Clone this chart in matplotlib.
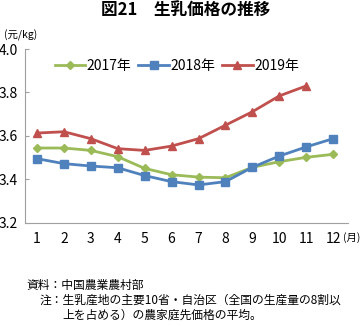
import matplotlib
matplotlib.use("Agg")
import matplotlib.pyplot as plt

plt.rcParams['font.family'] = ['Noto Sans CJK JP', 'DejaVu Sans']

months = list(range(1, 13))
month_labels = [str(m) for m in months]
y2017 = [3.544, 3.544, 3.533, 3.504, 3.450, 3.421, 3.410, 3.407, 3.455, 3.481, 3.501, 3.515]
y2018 = [3.495, 3.472, 3.461, 3.453, 3.417, 3.389, 3.374, 3.389, 3.455, 3.507, 3.549, 3.587]
months2019 = list(range(1, 12))
y2019 = [3.613, 3.619, 3.587, 3.541, 3.533, 3.553, 3.587, 3.649, 3.711, 3.784, 3.830]
yticks = [3.2, 3.4, 3.6, 3.8, 4.0]

fig = plt.figure(figsize=(3.63, 3.27), dpi=100)
ax = fig.add_axes([0.069, 0.319, 0.89, 0.531])

ax.plot(months, y2017, color='#9BBB59', lw=2.0, marker='D', ms=3.8, label='2017年')
ax.plot(months, y2018, color='#4F81BD', lw=2.0, marker='s', ms=6, label='2018年')
ax.plot(months2019, y2019, color='#C0504D', lw=2.0, marker='^', ms=5.5, label='2019年')

ax.set_xlim(0.554, 12.56)
ax.set_ylim(3.2, 4.0)
ax.set_yticks(yticks)
ax.set_yticklabels([f'{v:.1f}' for v in yticks])
ax.set_xticks(months)
ax.set_xticklabels(month_labels)
for s in ['top', 'right']:
    ax.spines[s].set_visible(False)
for s in ['left', 'bottom']:
    ax.spines[s].set_color('#A0A0A0')
    ax.spines[s].set_linewidth(0.8)
ax.tick_params(axis='y', direction='in', length=3, color='#A0A0A0', labelsize=10, pad=5)
ax.tick_params(axis='x', length=0, labelsize=10, pad=7)

leg = ax.legend(loc='upper center', bbox_to_anchor=(0.47, 0.975), ncol=3, frameon=False,
                fontsize=10, handlelength=2.2, handletextpad=0.1, columnspacing=0.5,
                borderaxespad=0.0)

fig.text(0.51, 0.97, '図21　生乳価格の推移', ha='center', va='center', fontsize=12, fontweight='bold')
fig.text(0.012, 0.893, '(元/kg)', ha='left', va='center', fontsize=7.5)
fig.text(0.945, 0.275, '(月)', ha='left', va='center', fontsize=7.5)

fig.text(0.074, 0.128, '資料：中国農業農村部', ha='left', va='center', fontsize=8.5)
fig.text(0.11, 0.082, '注：生乳産地の主要10省・自治区（全国の生産量の8割以', ha='left', va='center', fontsize=8.5)
fig.text(0.173, 0.036, '上を占める）の農家庭先価格の平均。', ha='left', va='center', fontsize=8.5)

fig.savefig('out.png', dpi=100)
